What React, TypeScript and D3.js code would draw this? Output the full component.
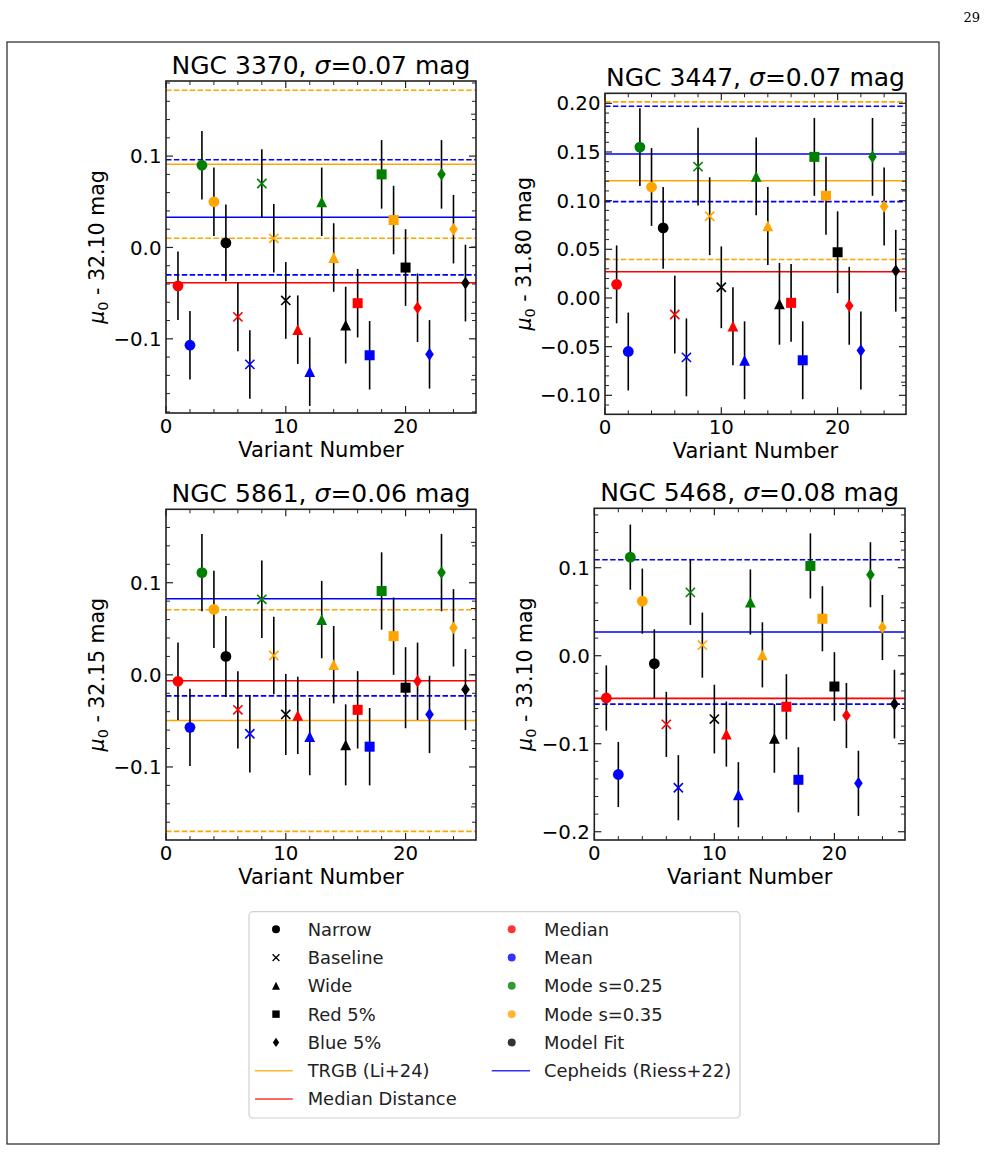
import React from "react";
import * as d3 from "d3";

// ---------- DATA ----------
const variantNumbers = [1, 2, 3, 4, 5, 6, 7, 8, 9, 10, 11, 12, 13, 14, 15, 16, 17, 18, 19, 20, 21, 22, 23, 24, 25];
// method (colour) cycles within each group of 5; shape changes every 5 variants
const methodNames = ["Median", "Mean", "Mode s=0.25", "Mode s=0.35", "Model Fit"];
const methodColors = ["#ff0000", "#0000ff", "#008000", "#ffa500", "#000000"];
const shapeNames = ["Narrow", "Baseline", "Wide", "Red 5%", "Blue 5%"];
const shapeKinds = ["circle", "x", "triangle", "square", "diamond"];

const mu3370 = [-0.042, -0.107, 0.090, 0.050, 0.005, -0.076, -0.128, 0.070, 0.010, -0.058, -0.090, -0.136, 0.050, -0.011, -0.085, -0.061, -0.118, 0.080, 0.030, -0.022, -0.066, -0.117, 0.080, 0.020, -0.039];
const mu3447 = [0.014, -0.055, 0.155, 0.114, 0.072, -0.017, -0.061, 0.135, 0.084, 0.011, -0.029, -0.064, 0.125, 0.074, -0.006, -0.005, -0.064, 0.145, 0.105, 0.047, -0.008, -0.054, 0.145, 0.094, 0.028];
const mu5861 = [-0.007, -0.057, 0.111, 0.071, 0.020, -0.038, -0.064, 0.082, 0.021, -0.043, -0.044, -0.067, 0.060, 0.011, -0.076, -0.038, -0.078, 0.091, 0.042, -0.014, -0.007, -0.043, 0.111, 0.051, -0.016];
const mu5468 = [-0.048, -0.135, 0.112, 0.062, -0.009, -0.078, -0.150, 0.072, 0.012, -0.072, -0.089, -0.158, 0.061, 0.001, -0.094, -0.058, -0.141, 0.102, 0.042, -0.035, -0.068, -0.145, 0.092, 0.032, -0.055];

// error per method (Median, Mean, Mode .25, Mode .35, Model Fit)
const err3370 = [0.0375, 0.0375, 0.0375, 0.0375, 0.042];
const err3447 = [0.040, 0.040, 0.040, 0.040, 0.042];
const err5861 = [0.042, 0.042, 0.042, 0.042, 0.044];
const err5468 = [0.037, 0.037, 0.037, 0.037, 0.039];

// reference distances relative to the offsets: [centre, uncertainty]
const trgb3370 = [0.091, 0.081];
const trgb3447 = [0.1205, 0.081];
const trgb5861 = [-0.0496, 0.1203];
const trgb5468 = null;
const ceph3370 = [0.033, 0.063];
const ceph3447 = [0.148, 0.049];
const ceph5861 = [0.0826, 0.1054];
const ceph5468 = [0.027, 0.082];
const medianDist = [-0.0387, 0.027, -0.0065, -0.0485];

const titles = ["NGC 3370", "NGC 3447", "NGC 5861", "NGC 5468"];
const sigmas = ["0.07", "0.07", "0.06", "0.08"];
const offsets = ["32.10", "31.80", "32.15", "33.10"];

const xTickValues = [0, 10, 20];
const xTickLabels = ["0", "10", "20"];
const yTicks1 = [-0.1, 0.0, 0.1];
const yTickLabels1 = ["\u22120.1", "0.0", "0.1"];
const yTicks2 = [-0.1, -0.05, 0.0, 0.05, 0.1, 0.15, 0.2];
const yTickLabels2 = ["\u22120.10", "\u22120.05", "0.00", "0.05", "0.10", "0.15", "0.20"];
const yTicks4 = [-0.2, -0.1, 0.0, 0.1];
const yTickLabels4 = ["\u22120.2", "\u22120.1", "0.0", "0.1"];
const twinTicks = [0.1, 0.3, 0.5, 0.7, 0.9];

// ---------- LAYOUT ----------
const FONT = "DejaVu Sans, Verdana, sans-serif";
const panels = [
  { mu: mu3370, err: err3370, trgb: trgb3370, ceph: ceph3370, med: medianDist[0], title: titles[0], sigma: sigmas[0], off: offsets[0],
    left: 166, right: 476, top: 81, bottom: 413, yDomain: [-0.1812, 0.1822], yTicks: yTicks1, yLabels: yTickLabels1, minorStep: 0.02, ylabX: 104 },
  { mu: mu3447, err: err3447, trgb: trgb3447, ceph: ceph3447, med: medianDist[1], title: titles[1], sigma: sigmas[1], off: offsets[1],
    left: 605, right: 906, top: 93.3, bottom: 414.3, yDomain: [-0.1195, 0.2103], yTicks: yTicks2, yLabels: yTickLabels2, minorStep: 0.01, ylabX: 531 },
  { mu: mu5861, err: err5861, trgb: trgb5861, ceph: ceph5861, med: medianDist[2], title: titles[2], sigma: sigmas[2], off: offsets[2],
    left: 166, right: 476, top: 509.3, bottom: 840, yDomain: [-0.1793, 0.1797], yTicks: yTicks1, yLabels: yTickLabels1, minorStep: 0.02, ylabX: 104 },
  { mu: mu5468, err: err5468, trgb: trgb5468, ceph: ceph5468, med: medianDist[3], title: titles[3], sigma: sigmas[3], off: offsets[3],
    left: 594.3, right: 905, top: 508.3, bottom: 840, yDomain: [-0.2094, 0.1675], yTicks: yTicks4, yLabels: yTickLabels4, minorStep: 0.02, ylabX: 532 },
];
const xDomain = [0, 25.88];
const xMinorStep = 2;

function Marker({ kind, cx, cy, color, s = 1, opacity = 1 }) {
  if (kind === "circle") return <circle cx={cx} cy={cy} r={5.4 * s} fill={color} opacity={opacity} />;
  if (kind === "x") {
    const h = 4.6 * s;
    return (
      <g stroke={color} strokeWidth={1.6 * Math.max(s, 0.8)} opacity={opacity}>
        <line x1={cx - h} y1={cy - h} x2={cx + h} y2={cy + h} />
        <line x1={cx - h} y1={cy + h} x2={cx + h} y2={cy - h} />
      </g>
    );
  }
  if (kind === "triangle") {
    const h = 5.4 * s;
    return <path d={`M${cx},${cy - h}L${cx - h},${cy + h}L${cx + h},${cy + h}Z`} fill={color} opacity={opacity} />;
  }
  if (kind === "square") {
    const h = 5.0 * s;
    return <rect x={cx - h} y={cy - h} width={2 * h} height={2 * h} fill={color} opacity={opacity} />;
  }
  const hw = 4.3 * s, hh = 6.3 * s;
  return <path d={`M${cx},${cy - hh}L${cx + hw},${cy}L${cx},${cy + hh}L${cx - hw},${cy}Z`} fill={color} opacity={opacity} />;
}

function Panel({ p }) {
  const x = d3.scaleLinear().domain(xDomain).range([p.left, p.right]);
  const y = d3.scaleLinear().domain(p.yDomain).range([p.bottom, p.top]);
  const twin = d3.scaleLinear().domain([0, 1]).range([p.bottom, p.top]);
  const [lo, hi] = p.yDomain;
  const yMinor = d3.range(Math.ceil(lo / p.minorStep - 1e-9), Math.floor(hi / p.minorStep + 1e-9) + 1)
    .map((k) => k * p.minorStep)
    .filter((v) => !p.yTicks.some((t) => Math.abs(t - v) < 1e-9));
  const xMinor = d3.range(0, xDomain[1], xMinorStep).filter((v) => !xTickValues.includes(v));
  const MAJ = 7, MIN = 4;
  const spine = "#222";
  const hline = (v, color, dashed, key) =>
    v >= lo && v <= hi ? (
      <line key={key} x1={p.left} x2={p.right} y1={y(v)} y2={y(v)} stroke={color} strokeWidth={1.6}
        strokeDasharray={dashed ? "5.5,2.4" : undefined} />
    ) : null;
  const cx = (p.left + p.right) / 2;
  const cy = (p.top + p.bottom) / 2;
  return (
    <g>
      {/* reference lines */}
      {p.trgb && hline(p.trgb[0] + p.trgb[1], "#ffa500", true, "t1")}
      {p.trgb && hline(p.trgb[0] - p.trgb[1], "#ffa500", true, "t2")}
      {p.trgb && hline(p.trgb[0], "#ffa500", false, "t0")}
      {hline(p.ceph[0] + p.ceph[1], "#0000ff", true, "c1")}
      {hline(p.ceph[0] - p.ceph[1], "#0000ff", true, "c2")}
      {hline(p.ceph[0], "#0000ff", false, "c0")}
      {hline(p.med, "#ff0000", false, "m0")}
      {/* error bars */}
      {variantNumbers.map((vn, i) => (
        <line key={"e" + vn} x1={x(vn)} x2={x(vn)} y1={y(p.mu[i] - p.err[i % 5])} y2={y(p.mu[i] + p.err[i % 5])}
          stroke="#000" strokeWidth={1.6} />
      ))}
      {/* markers */}
      {variantNumbers.map((vn, i) => (
        <Marker key={"m" + vn} kind={shapeKinds[Math.floor(i / 5)]} cx={x(vn)} cy={y(p.mu[i])} color={methodColors[i % 5]} />
      ))}
      {/* frame */}
      <rect x={p.left} y={p.top} width={p.right - p.left} height={p.bottom - p.top} fill="none" stroke={spine} strokeWidth={1.6} />
      {/* y ticks left & right */}
      {p.yTicks.map((t) => (
        <g key={"yt" + t}>
          <line x1={p.left} x2={p.left + MAJ} y1={y(t)} y2={y(t)} stroke={spine} strokeWidth={1.2} />
          <line x1={p.right} x2={p.right - MAJ} y1={y(t)} y2={y(t)} stroke={spine} strokeWidth={1.2} />
        </g>
      ))}
      {yMinor.map((t) => (
        <g key={"ym" + t}>
          <line x1={p.left} x2={p.left + MIN} y1={y(t)} y2={y(t)} stroke={spine} strokeWidth={1} />
          <line x1={p.right} x2={p.right - MIN} y1={y(t)} y2={y(t)} stroke={spine} strokeWidth={1} />
        </g>
      ))}
      {twinTicks.map((t) => (
        <line key={"tw" + t} x1={p.right} x2={p.right - 5} y1={twin(t)} y2={twin(t)} stroke={spine} strokeWidth={1} />
      ))}
      {/* x ticks bottom & top */}
      {xTickValues.map((t) => (
        <g key={"xt" + t}>
          <line x1={x(t)} x2={x(t)} y1={p.bottom} y2={p.bottom - MAJ} stroke={spine} strokeWidth={1.2} />
          <line x1={x(t)} x2={x(t)} y1={p.top} y2={p.top + MAJ} stroke={spine} strokeWidth={1.2} />
        </g>
      ))}
      {xMinor.map((t) => (
        <g key={"xm" + t}>
          <line x1={x(t)} x2={x(t)} y1={p.bottom} y2={p.bottom - MIN} stroke={spine} strokeWidth={1} />
          <line x1={x(t)} x2={x(t)} y1={p.top} y2={p.top + MIN} stroke={spine} strokeWidth={1} />
        </g>
      ))}
      {/* tick labels */}
      {p.yTicks.map((t, i) => (
        <text key={"yl" + t} x={p.left - 4.5} y={y(t)} dy="0.36em" textAnchor="end" fontSize={19.8} fontFamily={FONT} fill="#000">
          {p.yLabels[i]}
        </text>
      ))}
      {xTickValues.map((t, i) => (
        <text key={"xl" + t} x={x(t)} y={p.bottom + 20} textAnchor="middle" fontSize={19.8} fontFamily={FONT} fill="#000">
          {xTickLabels[i]}
        </text>
      ))}
      {/* axis labels */}
      <text x={cx} y={p.bottom + 43.5} textAnchor="middle" fontSize={21} fontFamily={FONT} fill="#000">Variant Number</text>
      <text transform={`translate(${p.ylabX},${cy}) rotate(-90)`} textAnchor="middle" fontSize={20.5} fontFamily={FONT} fill="#000">
        <tspan fontStyle="italic">μ</tspan>
        <tspan dy={4} fontSize={14.5}>0</tspan>
        <tspan dy={-4}>{` - ${p.off} mag`}</tspan>
      </text>
      {/* title */}
      <text x={cx} y={p.top - 7} textAnchor="middle" fontSize={25} fontFamily={FONT} fill="#000">
        {`${p.title}, `}
        <tspan fontStyle="italic">σ</tspan>
        {`=${p.sigma} mag`}
      </text>
    </g>
  );
}

function Legend() {
  const row = d3.scaleLinear().domain([0, 6]).range([929.3, 1099]);
  const col1 = { mk: 276, tx: 307.7, l1: 255, l2: 292.7 };
  const col2 = { mk: 511.7, tx: 544, l1: 491.7, l2: 530 };
  const fs = 17.9;
  const txt = (xx, r, s) => (
    <text x={xx} y={row(r)} dy="0.36em" fontSize={fs} fontFamily={FONT} fill="#222">{s}</text>
  );
  return (
    <g>
      <rect x={249} y={911.7} width={491} height={206.3} rx={4} fill="#fff" stroke="#d0d0d0" strokeWidth={1.2} />
      {shapeNames.map((n, i) => (
        <g key={n}>
          <Marker kind={shapeKinds[i]} cx={col1.mk} cy={row(i)} color="#000" s={0.74} />
          {txt(col1.tx, i, n)}
        </g>
      ))}
      {methodNames.map((n, i) => (
        <g key={n}>
          <Marker kind="circle" cx={col2.mk} cy={row(i)} color={methodColors[i]} s={0.74} opacity={0.8} />
          {txt(col2.tx, i, n)}
        </g>
      ))}
      <line x1={col1.l1} x2={col1.l2} y1={row(5)} y2={row(5)} stroke="#ffa500" strokeWidth={1.6} opacity={0.8} />
      {txt(col1.tx, 5, "TRGB (Li+24)")}
      <line x1={col1.l1} x2={col1.l2} y1={row(6)} y2={row(6)} stroke="#ff0000" strokeWidth={1.6} opacity={0.8} />
      {txt(col1.tx, 6, "Median Distance")}
      <line x1={col2.l1} x2={col2.l2} y1={row(5)} y2={row(5)} stroke="#0000ff" strokeWidth={1.6} opacity={0.8} />
      {txt(col2.tx, 5, "Cepheids (Riess+22)")}
    </g>
  );
}

export default function App() {
  return (
    <svg width={989} height={1152} viewBox="0 0 989 1152"
      style={{ position: "absolute", left: 0, top: 0, background: "#fff" }}>
      <rect x={0} y={0} width={989} height={1152} fill="#fff" />
      <text x={980} y={22} textAnchor="end" fontSize={13} fontFamily="DejaVu Serif, serif" fill="#000">29</text>
      <rect x={7} y={42} width={932} height={1102} fill="none" stroke="#222" strokeWidth={1.2} />
      {panels.map((p) => <Panel key={p.title} p={p} />)}
      <Legend />
    </svg>
  );
}
